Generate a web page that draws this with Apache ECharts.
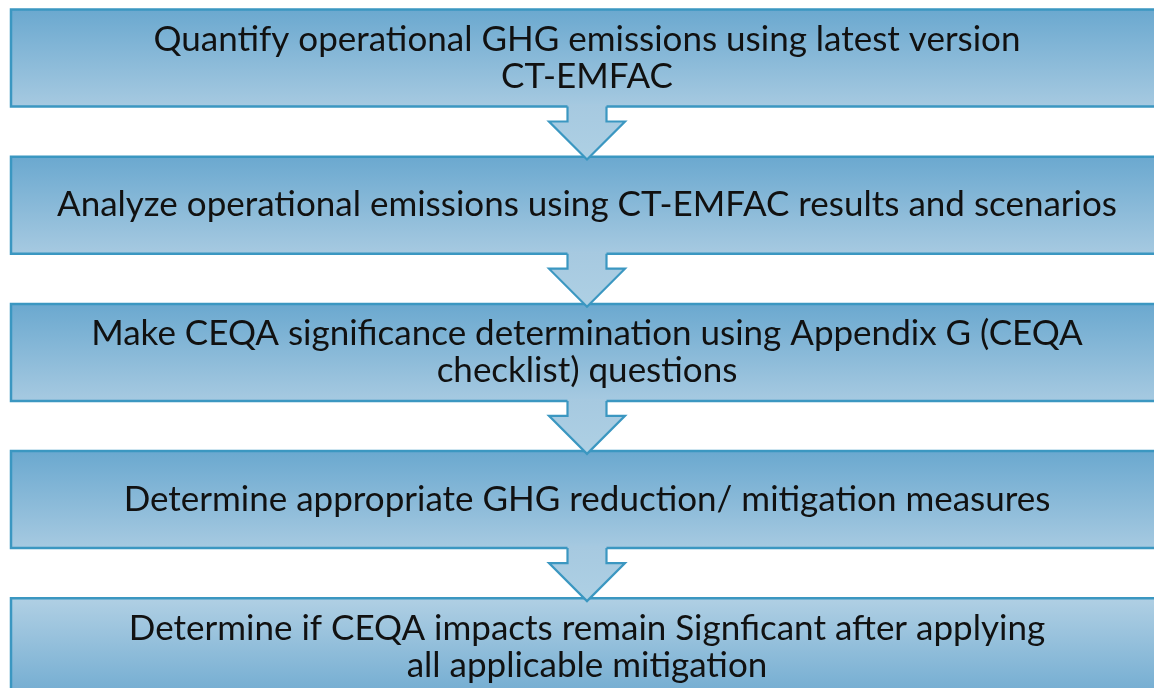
<!DOCTYPE html>
<html>
<head>
<meta charset="utf-8">
<script src="https://cdn.jsdelivr.net/npm/echarts@6/dist/echarts.min.js"></script>
<style>
html,body{margin:0;padding:0;background:#fff;}
#chart{width:1154px;height:688px;}
</style>
</head>
<body>
<div id="chart"></div>
<script>
// Flowchart steps (top to bottom)
const steps = [
  "Quantify operational GHG emissions using latest version\nCT-EMFAC",
  "Analyze operational emissions using CT-EMFAC results and scenarios",
  "Make CEQA significance determination using Appendix G (CEQA\nchecklist) questions",
  "Determine appropriate GHG reduction/ mitigation measures",
  "Determine if CEQA impacts remain Signficant after applying\nall applicable mitigation"
];
// Arrows connect step i to step i+1
const arrowsFrom = [0, 1, 2, 3];

const chart = echarts.init(document.getElementById('chart'), null, {renderer: 'canvas'});

const FONT = '35px Lato, "Open Sans", sans-serif';
const BORDER = '#3b97c1';
const BOX_RATIO = 97 / 147.2;

function boxRender(params, api) {
  const i = api.value(0);
  const pitch = api.size([0, 1])[1];
  const p0 = api.coord([0, i]);
  const p1 = api.coord([1, i]);
  const boxH = pitch * BOX_RATIO;
  const y0 = p0[1] - boxH / 2;
  const last = i === steps.length - 1;
  const grad = last
    ? new echarts.graphic.LinearGradient(0, 0, 0, 1, [
        {offset: 0, color: '#b1d0e4'}, {offset: 1, color: '#72acd1'}])
    : new echarts.graphic.LinearGradient(0, 0, 0, 1, [
        {offset: 0, color: '#6aa8cf'}, {offset: 1, color: '#a7cae1'}]);
  return {
    type: 'group',
    children: [
      {
        type: 'rect',
        shape: {x: p0[0], y: y0, width: p1[0] - p0[0] + 30, height: boxH},
        style: {fill: grad, stroke: BORDER, lineWidth: 2.5}
      },
      {
        type: 'text',
        style: {
          text: steps[i],
          x: (p0[0] + p1[0]) / 2,
          y: p0[1],
          align: 'center',
          verticalAlign: 'middle',
          font: FONT,
          lineHeight: 37,
          fill: '#111'
        }
      }
    ]
  };
}

function arrowRender(params, api) {
  const i = api.value(0);
  const pitch = api.size([0, 1])[1];
  const p0 = api.coord([0, i]);
  const p1 = api.coord([1, i]);
  const boxH = pitch * BOX_RATIO;
  const yb = p0[1] + boxH / 2;
  const cx = (p0[0] + p1[0]) / 2;
  const sw = 19.5, hw = 38, stemL = 15, headL = 38;
  const ys = yb + stemL, tip = ys + headL;
  const pts = [
    [cx - sw, yb], [cx - sw, ys], [cx - hw, ys], [cx, tip],
    [cx + hw, ys], [cx + sw, ys], [cx + sw, yb]
  ];
  return {
    type: 'group',
    children: [
      {
        type: 'polygon',
        shape: {points: [[cx - sw, yb - 2]].concat(pts).concat([[cx + sw, yb - 2]])},
        style: {
          fill: new echarts.graphic.LinearGradient(0, 0, 0, 1, [
            {offset: 0, color: '#a6c9e0'}, {offset: 1, color: '#aed0e4'}]),
          stroke: null
        }
      },
      {
        type: 'polyline',
        shape: {points: pts},
        style: {stroke: BORDER, lineWidth: 2.2, fill: null, lineJoin: 'miter'}
      }
    ]
  };
}

chart.setOption({
  animation: false,
  grid: {left: 11, right: 0, top: 0, bottom: 0},
  xAxis: {type: 'value', min: 0, max: 0.99219, show: false},
  yAxis: {type: 'value', inverse: true, min: -0.39402, max: 4.27989, show: false},
  series: [
    {
      type: 'custom',
      renderItem: boxRender,
      data: steps.map((s, i) => [i]),
      encode: {y: 0},
      clip: false,
      z: 2
    },
    {
      type: 'custom',
      renderItem: arrowRender,
      data: arrowsFrom.map(i => [i]),
      encode: {y: 0},
      clip: false,
      z: 3
    }
  ]
});
</script>
</body>
</html>
